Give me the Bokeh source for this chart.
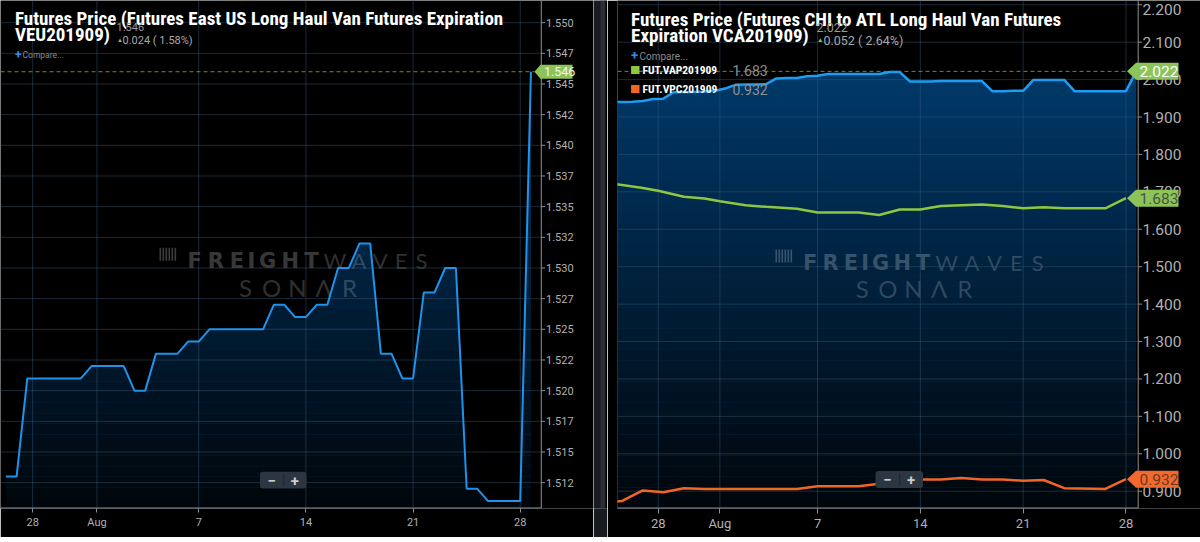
import numpy as np
from bokeh.plotting import figure
from bokeh.models import (FixedTicker, Label, BoxAnnotation, Range1d)
from bokeh.core.properties import value
from bokeh.layouts import row, column
from bokeh.embed import file_html
from bokeh.resources import INLINE

# ---------------- data ----------------
x_tick_pos = [2.5, 8.5, 18, 28, 38, 48]
x_tick_labels = ["28", "Aug", "7", "14", "21", "28"]

# Left: East US Long Haul Van Futures VEU201909
veu_x = list(range(50))
veu_price = [1.513, 1.513,
             1.521, 1.521, 1.521, 1.521, 1.521, 1.521,
             1.522, 1.522, 1.522, 1.522,
             1.520, 1.520,
             1.523, 1.523, 1.523,
             1.524, 1.524,
             1.525, 1.525, 1.525, 1.525, 1.525, 1.525,
             1.527, 1.527, 1.526, 1.526, 1.527, 1.527,
             1.530, 1.530, 1.532, 1.532,
             1.523, 1.523, 1.521, 1.521,
             1.528, 1.528, 1.530, 1.530,
             1.512, 1.512,
             1.511, 1.511, 1.511, 1.511,
             1.546]
veu_yticks = [1.5125, 1.515, 1.5175, 1.52, 1.5225, 1.525, 1.5275, 1.53,
              1.5325, 1.535, 1.5375, 1.54, 1.5425, 1.545, 1.5475, 1.55]
veu_ytick_labels = ["1.512", "1.515", "1.517", "1.520", "1.522", "1.525", "1.527", "1.530",
                    "1.532", "1.535", "1.537", "1.540", "1.542", "1.545", "1.547", "1.550"]
veu_last = 1.546

# Right: CHI to ATL Long Haul Van Futures VCA201909
vca_x = list(range(-2, 50))
vca_price = [1.940, 1.940, 1.941, 1.943, 1.948, 1.949, 1.966, 1.967, 1.967, 1.968,
             1.970, 1.976, 1.986, 1.987, 1.987, 1.988, 2.003, 2.004, 2.004, 2.009,
             2.010, 2.015, 2.015, 2.015, 2.015, 2.015, 2.015, 2.020, 2.020, 1.995,
             1.995, 1.995, 1.996, 1.996, 1.996, 1.996, 1.996, 1.969, 1.969, 1.970,
             1.970, 1.999, 1.999, 1.999, 1.999, 1.969, 1.969, 1.969, 1.969, 1.969,
             1.969, 2.022]
vca_last = 2.022

# Compare series FUT.VAP201909 (green)
vap_x = [-2, 1, 2.5, 5, 7, 8.5, 11, 13, 16, 18, 22, 24, 26, 28, 30, 32, 34, 36, 38, 40, 42, 46, 48]
vap_price = [1.722, 1.710, 1.703, 1.687, 1.682, 1.675, 1.664, 1.660, 1.655, 1.645, 1.645,
             1.638, 1.653, 1.653, 1.662, 1.664, 1.666, 1.662, 1.656, 1.659, 1.656, 1.656, 1.683]
vap_last = 1.683

# Compare series FUT.VPC201909 (orange)
vpc_x = [-2, -1, 1, 3, 5, 7, 16, 18, 22, 24, 26, 28, 30, 32, 34, 36, 38, 40, 42, 46, 48]
vpc_price = [0.871, 0.874, 0.902, 0.897, 0.908, 0.906, 0.906, 0.913, 0.913, 0.920, 0.928,
             0.931, 0.931, 0.935, 0.931, 0.931, 0.928, 0.930, 0.908, 0.906, 0.932]
vpc_last = 0.932

vca_yticks = [0.9, 1.0, 1.1, 1.2, 1.3, 1.4, 1.5, 1.6, 1.7, 1.8, 1.9, 2.0, 2.1, 2.2]
vca_ytick_labels = ["0.900", "1.000", "1.100", "1.200", "1.300", "1.400", "1.500",
                    "1.600", "1.700", "1.800", "1.900", "2.000", "2.100", "2.200"]

# ---------------- styling ----------------
BG = "#000000"
AXIS = "#8f8f8f"
LBL = "#b0b0b0"
GRID = "#3a5a7a"
GREEN = "#8cc45a"
GREEN_LINE = "#8dc63f"
ORANGE = "#f26522"
BLUE_LEFT = "#1f93ea"
BLUE_RIGHT = "#1c9df2"
FILL_TOP = "#00427a"
TITLE_FONT = "'Liberation Sans Narrow', 'Roboto Condensed', Roboto"
FONT = "Roboto"
ROW_H = 537


# pixel <-> data calibration of each panel (screen pixels of the page)
def LX(sx):
    return (sx - 5.36) / 10.716


def LY(sy):
    return 1.5125 + (485.0 - sy) / 12339.0


def RX(sx):
    return (sx - 632.0) / 10.28


def RY(sy):
    return 0.9 + (490.7 - sy) / 374.2


def make_fig(width, border_left, frame_h, xr, yr, tick_out, standoff, xfs):
    p = figure(width=width, height=ROW_H, x_range=Range1d(*xr), y_range=Range1d(*yr),
               output_backend="svg", toolbar_location=None, y_axis_location=None,
               background_fill_color=BG, border_fill_color=BG, outline_line_color=None)
    p.min_border_left = border_left
    p.min_border_right = 0
    p.min_border_top = 0
    p.min_border_bottom = ROW_H - frame_h
    p.xaxis.ticker = FixedTicker(ticks=x_tick_pos)
    p.xaxis.major_label_overrides = dict(zip(x_tick_pos, x_tick_labels))
    ax = p.xaxis[0]
    ax.axis_line_color = None
    ax.major_tick_line_color = AXIS
    ax.minor_tick_line_color = None
    ax.major_tick_in = 0
    ax.major_tick_out = tick_out
    ax.major_label_standoff = standoff
    ax.major_label_text_color = LBL
    ax.major_label_text_font = FONT
    ax.major_label_text_font_size = xfs
    p.xgrid.visible = False
    p.ygrid.visible = False
    return p


def add_area(p, xs, ys, x0, x_axis, yr, n=48):
    p.varea(x=xs, y1=yr[0], y2=ys, fill_color=FILL_TOP, fill_alpha=1.0)
    edges = np.linspace(yr[0], yr[1], n + 1)
    frac_from_top = 1 - (np.arange(n) + 0.5) / n
    alphas = 0.92 * frac_from_top
    p.quad(left=x0, right=x_axis, bottom=edges[:-1], top=edges[1:],
           fill_color="#000000", fill_alpha=alphas, line_color=None)


def add_grid_axis(p, x0, x_axis, x_tick_end, x_label, yr, yticks, ylabels, yfs, label_top):
    # grid
    p.segment(x0=x0, x1=x_axis, y0=yticks, y1=yticks, line_color=GRID, line_alpha=0.45,
              line_width=1)
    p.segment(x0=x_tick_pos, x1=x_tick_pos, y0=yr[0], y1=yr[1], line_color=GRID,
              line_alpha=0.45, line_width=1)
    # axis lines
    p.segment(x0=[x0], x1=[x_axis], y0=[yr[0]], y1=[yr[0]], line_color=AXIS, line_width=2)
    p.segment(x0=[x_axis], x1=[x_axis], y0=[yr[0]], y1=[yr[1]], line_color=AXIS,
              line_width=1)
    # y ticks + labels (a label touching the top edge is nudged down to stay readable)
    p.segment(x0=x_axis, x1=x_tick_end, y0=yticks, y1=yticks, line_color=AXIS, line_width=1)
    label_y = np.minimum(np.array(yticks, dtype=float), label_top)
    p.text(x=x_label, y=label_y, text=ylabels, text_font=value(FONT),
           text_font_size=value(yfs), text_color=LBL, text_baseline="middle",
           text_align="left")


def watermark(p, X, Y, logo_x, fr0, fr1, wv1, y_fw, s0, s1, y_s, alpha):
    col = "#ffffff"
    specs = [("FREIGHT", fr0, fr1, [1.0, 1.1, 1.0, 0.45, 1.15, 1.1, 1.0], "DejaVu Sans",
              "bold", "21px", y_fw, alpha),
             ("WAVES", fr1, wv1, [1.25, 1.0, 1.0, 0.95, 0.95], "Lato", "normal", "22px",
              y_fw, alpha * 0.85),
             ("SON\u039bR", s0, s1, [1, 1, 1, 1, 1], "Lato", "normal", "24px", y_s,
              alpha * 0.85)]
    for word, a, b, w, font, style, size, yb, al in specs:
        w = np.array(w, dtype=float)
        edges = a + (b - a) * np.concatenate([[0], np.cumsum(w)]) / w.sum()
        centers = (edges[:-1] + edges[1:]) / 2
        p.text(x=[X(c) for c in centers], y=[Y(yb)] * len(word), text=list(word),
               text_font=value(font), text_font_style=style, text_font_size=value(size),
               text_color=col, text_alpha=al, text_align="center",
               text_baseline="alphabetic")
    lefts = [logo_x + i * 3.0 for i in range(6)]
    p.quad(left=[X(l) for l in lefts], right=[X(l + 1.6) for l in lefts],
           bottom=Y(y_fw), top=Y(y_fw - 13), fill_color=col, fill_alpha=alpha,
           line_color=None)


def tag(p, X, Y, val, tip, body_l, body_r, half_h, color, text, tcolor, tsize, tx):
    h = Y(0) - Y(half_h)
    p.patch(x=[X(tip), X(body_l), X(body_r), X(body_r), X(body_l)],
            y=[val, val + h, val + h, val - h, val - h], fill_color=color, line_color=None)
    p.text(x=[X(tx)], y=[val], text=[text], text_font=value(FONT),
           text_font_size=value(tsize), text_color=tcolor, text_baseline="middle",
           text_align="left")


def lab(p, X, Y, x, y, text, size, color, font=FONT, style="normal",
        baseline="alphabetic", align="left"):
    p.add_layout(Label(x=X(x), y=Y(y), text=text, text_font=font, text_font_size=size,
                       text_font_style=style, text_color=color, text_baseline=baseline,
                       text_align=align))


def box(p, X, Y, x0, x1, y0, y1, color, radius=0):
    p.add_layout(BoxAnnotation(left=X(x0), right=X(x1), top=Y(y0), bottom=Y(y1),
                               fill_color=color, fill_alpha=1.0, line_color=None,
                               border_radius=radius))


def zoom_buttons(p, X, Y, x0, x1, y0, y1):
    box(p, X, Y, x0, x1, y0, y1, "#2b3641", radius=3)
    mid = (x0 + x1) / 2
    box(p, X, Y, mid, mid + 1, y0 + 2, y1 - 2, "#1d252d")
    yc = (y0 + y1) / 2
    lab(p, X, Y, x0 + (mid - x0) / 2, yc, "\u2212", "15px", "#c9ced3",
        style="bold", baseline="middle", align="center")
    lab(p, X, Y, mid + (x1 - mid) / 2, yc, "+", "15px", "#c9ced3",
        style="bold", baseline="middle", align="center")


# ---------------- left chart (page x 0..593) ----------------
L_XR = (LX(0), LX(593))
L_YR = (LY(511), LY(0))
L_AXIS = LX(540.8)
pl = make_fig(593, 0, 511, L_XR, L_YR, 4, 3, "11px")
add_area(pl, veu_x, veu_price, L_XR[0], L_AXIS, L_YR)
watermark(pl, LX, LY, 159, 184, 321, 431, 261.7, 232, 362, 289, 0.24)
add_grid_axis(pl, L_XR[0], L_AXIS, LX(544.5), LX(545.5), L_YR, veu_yticks,
              veu_ytick_labels, "11px", LY(7))
pl.line(veu_x, veu_price, line_color=BLUE_LEFT, line_width=2)
pl.segment(x0=[L_XR[0]], x1=[LX(534)], y0=[veu_last], y1=[veu_last], line_color="#5f8f3a",
           line_dash="4 3", line_width=1)
tag(pl, LX, LY, veu_last, 534, 540, 572, 7, GREEN, "1.546", "#f4f4f4", "12.5px", 543.5)

zoom_buttons(pl, LX, LY, 259.5, 306, 474, 491)
lab(pl, LX, LY, 14.5, 18.5, "Futures Price (Futures East US Long Haul Van Futures Expiration",
    "19px", "#ffffff", font=TITLE_FONT, style="bold")
lab(pl, LX, LY, 14.5, 34.5, "VEU201909)", "19px", "#ffffff", font=TITLE_FONT, style="bold")
lab(pl, LX, LY, 116, 27, "1.546", "11px", "#9a9a9a")
lab(pl, LX, LY, 116.5, 39.5, "\u25b2", "6px", "#8bc34a")
lab(pl, LX, LY, 122, 40, "0.024 ( 1.58%)", "11px", "#a8a8a8")
lab(pl, LX, LY, 14.5, 54.5, "+", "12px", "#2e8ff0", style="bold", baseline="middle")
lab(pl, LX, LY, 22, 55, "Compare...", "8.5px", "#8a8a8a", baseline="middle")

# ---------------- gap between the panels ----------------
pg = figure(width=14, height=ROW_H, x_range=(0, 14), y_range=(0, ROW_H),
            output_backend="svg", toolbar_location=None, background_fill_color="#181b1f",
            border_fill_color="#181b1f", outline_line_color=None, min_border=0)
pg.axis.visible = False
pg.grid.visible = False
pg.quad(left=[7, 12], right=[12, 14], bottom=[0, 0], top=[ROW_H, ROW_H],
        fill_color=["#2a2f35", "#000000"], line_color=None)

# ---------------- right chart (page x 607..1200) ----------------
R_XR = (RX(617), RX(1200))
R_YR = (RY(508), RY(0))
R_AXIS = RX(1137.7)
pr = make_fig(593, 10, 508, R_XR, R_YR, 5, 2, "13px")
add_area(pr, vca_x, vca_price, R_XR[0], R_AXIS, R_YR)
watermark(pr, RX, RY, 775, 800, 932, 1048, 262, 849, 977, 288, 0.22)
add_grid_axis(pr, R_XR[0], R_AXIS, RX(1141.5), RX(1142), R_YR, vca_yticks,
              vca_ytick_labels, "15.5px", RY(9))
pr.line(vca_x, vca_price, line_color=BLUE_RIGHT, line_width=2.5)
pr.line(vap_x, vap_price, line_color=GREEN_LINE, line_width=2.5)
pr.line(vpc_x, vpc_price, line_color=ORANGE, line_width=2.5)
pr.segment(x0=[R_XR[0]], x1=[RX(1126.5)], y0=[vca_last], y1=[vca_last], line_color="#5f8f3a",
           line_dash="4 3", line_width=1)
tag(pr, RX, RY, vca_last, 1126.5, 1135.5, 1178, 8.5, GREEN, "2.022", "#ffffff", "15.5px", 1139)
tag(pr, RX, RY, vap_last, 1126.5, 1135.5, 1178, 8.5, GREEN, "1.683", "#4b5443", "15.5px", 1139)
tag(pr, RX, RY, vpc_last, 1126.5, 1135.5, 1178, 8.5, "#f2692e", "0.932", "#6b3a22", "15.5px",
    1139)

zoom_buttons(pr, RX, RY, 875, 922.5, 470.5, 487.5)
lab(pr, RX, RY, 630.6, 18.5, "Futures Price (Futures CHI to ATL Long Haul Van Futures",
    "19px", "#ffffff", font=TITLE_FONT, style="bold")
lab(pr, RX, RY, 630.6, 34.5, "Expiration VCA201909)", "19px", "#ffffff",
    font=TITLE_FONT, style="bold")
lab(pr, RX, RY, 816, 27, "2.022", "12.5px", "#9a9a9a")
lab(pr, RX, RY, 816.5, 39.5, "\u25b2", "6.5px", "#8bc34a")
lab(pr, RX, RY, 823, 40, "0.052 ( 2.64%)", "12.5px", "#a8a8a8")
lab(pr, RX, RY, 630.6, 55, "+", "13px", "#2e8ff0", style="bold", baseline="middle")
lab(pr, RX, RY, 639, 55.5, "Compare...", "10px", "#8a8a8a", baseline="middle")
for (yc, col, name, val) in ((69.5, GREEN_LINE, "FUT.VAP201909", vap_last),
                             (88.5, ORANGE, "FUT.VPC201909", vpc_last)):
    box(pr, RX, RY, 630.6, 639, yc - 4, yc + 4, col)
    lab(pr, RX, RY, 642, yc, name, "11.5px", "#ffffff", font=TITLE_FONT, style="bold",
        baseline="middle")
    lab(pr, RX, RY, 732, yc + 0.5, f"{val:.3f}", "14px", "#8f8f8f", baseline="middle")

# ---------------- bottom strip ----------------
strip = figure(width=1200, height=5, x_range=(0, 1), y_range=(0, 1), output_backend="svg",
               toolbar_location=None, background_fill_color="#1e2226",
               border_fill_color="#1e2226", outline_line_color=None, min_border=0)
strip.axis.visible = False
strip.grid.visible = False
strip.quad(left=[0], right=[1], bottom=[0], top=[1], fill_color="#1e2226", line_color=None)

layout = column(row(pl, pg, pr), strip)
open("out.html", "w").write(file_html(layout, INLINE))
